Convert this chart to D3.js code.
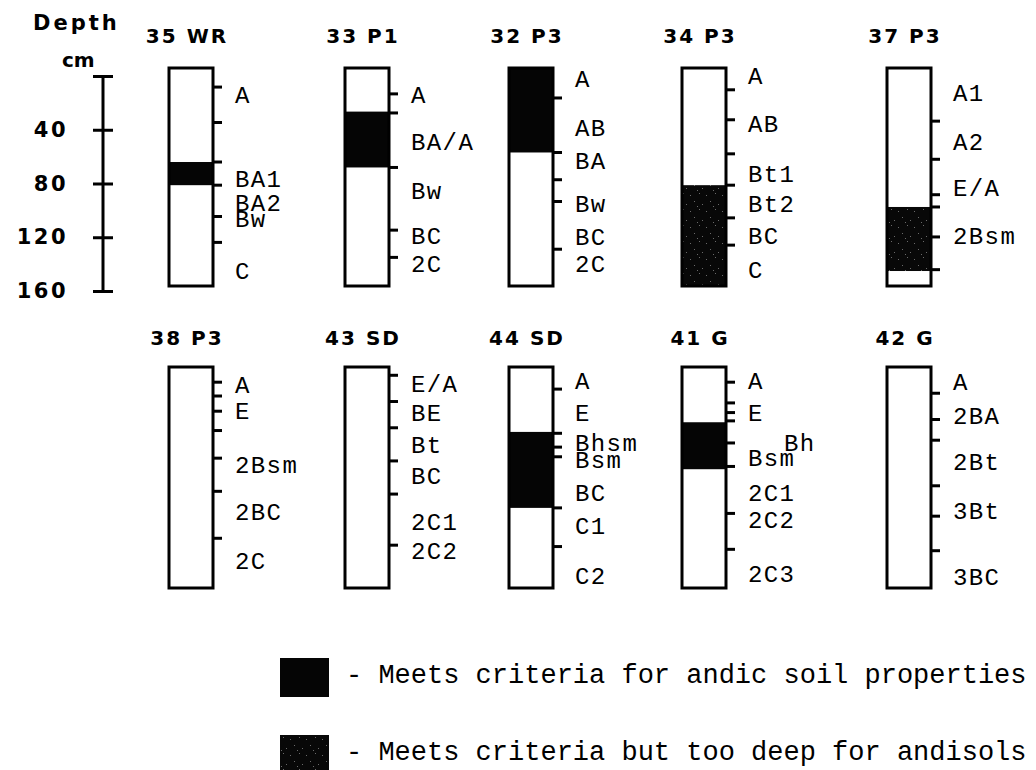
<!DOCTYPE html>
<html>
<head>
<meta charset="utf-8">
<script src="https://cdn.jsdelivr.net/npm/d3@7"></script>
<style>
  body { margin: 0; background: #fff; }
  .title, .axislab { font-family: 'DejaVu Sans', sans-serif; font-weight: bold; }
  .hz, .legend text { font-family: 'Liberation Mono', monospace; }
</style>
</head>
<body>
<svg></svg>
<script>
var width = 1036;
var height = 770;

// soil profiles, top row first
var profiles = ['35 WR', '33 P1', '32 P3', '34 P3', '37 P3', '38 P3', '43 SD', '44 SD', '41 G', '42 G'];

// horizon boundary marks (cm) for each profile
var boundaries = [
    [14, 40, 69, 86, 109, 128],
    [19, 33, 73, 119, 139],
    [22, 62, 82, 98, 133],
    [16, 38, 63, 86, 110, 130],
    [39, 67, 93, 102, 124, 148],
    [11, 21, 32, 46, 66, 90, 124],
    [6, 25, 44, 68, 92, 129],
    [16, 48, 58, 65, 102, 130],
    [11, 26, 33, 39, 55, 72, 106, 132],
    [19, 38, 53, 86, 108, 133]
];

// horizon names and the depth (cm) where each name sits
var horizons = [
    ['A', 'BA1', 'BA2', 'Bw', 'C'],
    ['A', 'BA/A', 'Bw', 'BC', '2C'],
    ['A', 'AB', 'BA', 'Bw', 'BC', '2C'],
    ['A', 'AB', 'Bt1', 'Bt2', 'BC', 'C'],
    ['A1', 'A2', 'E/A', '2Bsm'],
    ['A', 'E', '2Bsm', '2BC', '2C'],
    ['E/A', 'BE', 'Bt', 'BC', '2C1', '2C2'],
    ['A', 'E', 'Bhsm', 'Bsm', 'BC', 'C1', 'C2'],
    ['A', 'E', 'Bh', 'Bsm', '2C1', '2C2', '2C3'],
    ['A', '2BA', '2Bt', '3Bt', '3BC']
];
var horizonDepths = [
    [20, 81, 99, 111, 149],
    [20, 54, 90, 123, 144],
    [8, 44, 68, 100, 124, 144],
    [6, 41, 78, 100, 123, 148],
    [18, 54, 88, 123],
    [13, 32, 71, 105, 140],
    [12, 33, 56, 79, 112, 133],
    [10, 33, 55, 67, 91, 115, 151],
    [10, 33, 55, 66, 91, 111, 150],
    [11, 35, 69, 104, 152]
];

// shaded layers
var bandProfile = ['35 WR', '33 P1', '32 P3', '34 P3', '37 P3', '44 SD', '41 G'];
var bandTop = [69, 32, 0, 86, 102, 47, 40];
var bandBottom = [86, 73, 62, 160, 149, 102, 74];
var bandKind = ['andic', 'andic', 'andic', 'deep', 'deep', 'andic', 'andic'];

var depthTicks = [0, 40, 80, 120, 160];
var legendKinds = ['andic', 'deep'];
var legendLabels = ['- Meets criteria for andic soil properties', '- Meets criteria but too deep for andisols'];

var svg = d3.select('svg')
    .attr('width', width)
    .attr('height', height);

// stippled fill for the "too deep" layers
var pat = svg.append('defs').append('pattern')
    .attr('id', 'stipple')
    .attr('patternUnits', 'userSpaceOnUse')
    .attr('width', 16).attr('height', 16);
pat.append('rect').attr('width', 16).attr('height', 16).attr('fill', '#080808');
[[2, 3], [11, 1], [6, 9], [14, 12], [9, 14]].forEach(p => {
    pat.append('rect').attr('x', p[0]).attr('y', p[1]).attr('width', 1).attr('height', 1).attr('fill', '#6a6a6a');
});

var fillFor = k => k === 'deep' ? 'url(#stipple)' : '#050505';

// layout scales
var colX = d3.scaleOrdinal().domain([0, 1, 2, 3, 4]).range([169, 345, 509, 682, 887]);
var colW = 44;
var rowY = [
    d3.scaleLinear().domain([0, 160]).range([68, 286]),
    d3.scaleLinear().domain([0, 160]).range([367, 588])
];
var titleY = [43, 345];

// depth axis
var depthScale = d3.scaleLinear().domain([0, 160]).range([76, 291]);
var axisG = svg.append('g')
    .attr('transform', 'translate(103,0)')
    .call(d3.axisLeft(depthScale)
        .tickValues(depthTicks)
        .tickSize(10)
        .tickPadding(25)
        .tickFormat(d => d ? d : ''));
axisG.select('.domain').remove();
axisG.selectAll('.tick line')
    .attr('x1', 10)
    .attr('stroke', '#000')
    .attr('stroke-width', 3);
axisG.selectAll('.tick text')
    .attr('class', 'axislab')
    .attr('fill', '#000')
    .style('font-size', '21px')
    .style('letter-spacing', '2.5px');
axisG.append('line')
    .attr('y1', depthScale(0)).attr('y2', depthScale(160))
    .attr('stroke', '#000').attr('stroke-width', 3);

svg.append('text').attr('class', 'axislab')
    .attr('x', 33).attr('y', 30)
    .style('font-size', '21px').style('letter-spacing', '3px')
    .text('Depth');
svg.append('text').attr('class', 'axislab')
    .attr('x', 62).attr('y', 67)
    .style('font-size', '20px')
    .text('cm');

// profiles
profiles.forEach((name, i) => {
    var row = Math.floor(i / 5);
    var y = rowY[row];
    var x0 = colX(i % 5);
    var g = svg.append('g');

    g.append('text')
        .attr('class', 'title')
        .attr('x', x0 + colW / 2 - 4)
        .attr('y', titleY[row])
        .attr('text-anchor', 'middle')
        .style('font-size', '20px')
        .style('letter-spacing', '2px')
        .text(name);

    g.append('rect')
        .attr('x', x0).attr('y', y(0))
        .attr('width', colW).attr('height', y(160) - y(0))
        .attr('fill', '#fff');

    bandProfile.forEach((p, j) => {
        if (p !== name) return;
        g.append('rect')
            .attr('x', x0).attr('y', y(bandTop[j]))
            .attr('width', colW).attr('height', y(bandBottom[j]) - y(bandTop[j]))
            .attr('fill', fillFor(bandKind[j]));
    });

    g.append('rect')
        .attr('x', x0).attr('y', y(0))
        .attr('width', colW).attr('height', y(160) - y(0))
        .attr('fill', 'none')
        .attr('stroke', '#000')
        .attr('stroke-width', 3);

    g.selectAll('.bd')
        .data(boundaries[i])
        .enter()
        .append('line')
            .attr('x1', x0 + colW).attr('x2', x0 + colW + 9)
            .attr('y1', d => y(d)).attr('y2', d => y(d))
            .attr('stroke', '#000')
            .attr('stroke-width', 3);

    var labs = horizons[i].map((t, k) => ({t: t, d: horizonDepths[i][k]}));
    g.selectAll('.hz')
        .data(labs)
        .enter()
        .append('text')
            .attr('class', 'hz')
            .attr('x', d => x0 + colW + 22 + (d.t === 'Bh' ? 36 : 0))
            .attr('y', d => y(d.d))
            .attr('dy', '0.34em')
            .style('font-size', '24px')
            .style('letter-spacing', '1.4px')
            .text(d => d.t);
});

// legend
var leg = svg.append('g').attr('class', 'legend');
var legY = d3.scalePoint().domain(legendKinds).range([658, 735]);
legendKinds.forEach((k, i) => {
    leg.append('rect')
        .attr('x', 280).attr('y', legY(k))
        .attr('width', 49).attr('height', 39)
        .attr('fill', fillFor(k));
    leg.append('text')
        .attr('x', 346).attr('y', legY(k) + 25)
        .style('font-size', '27px')
        .text(legendLabels[i]);
});
</script>
</body>
</html>
